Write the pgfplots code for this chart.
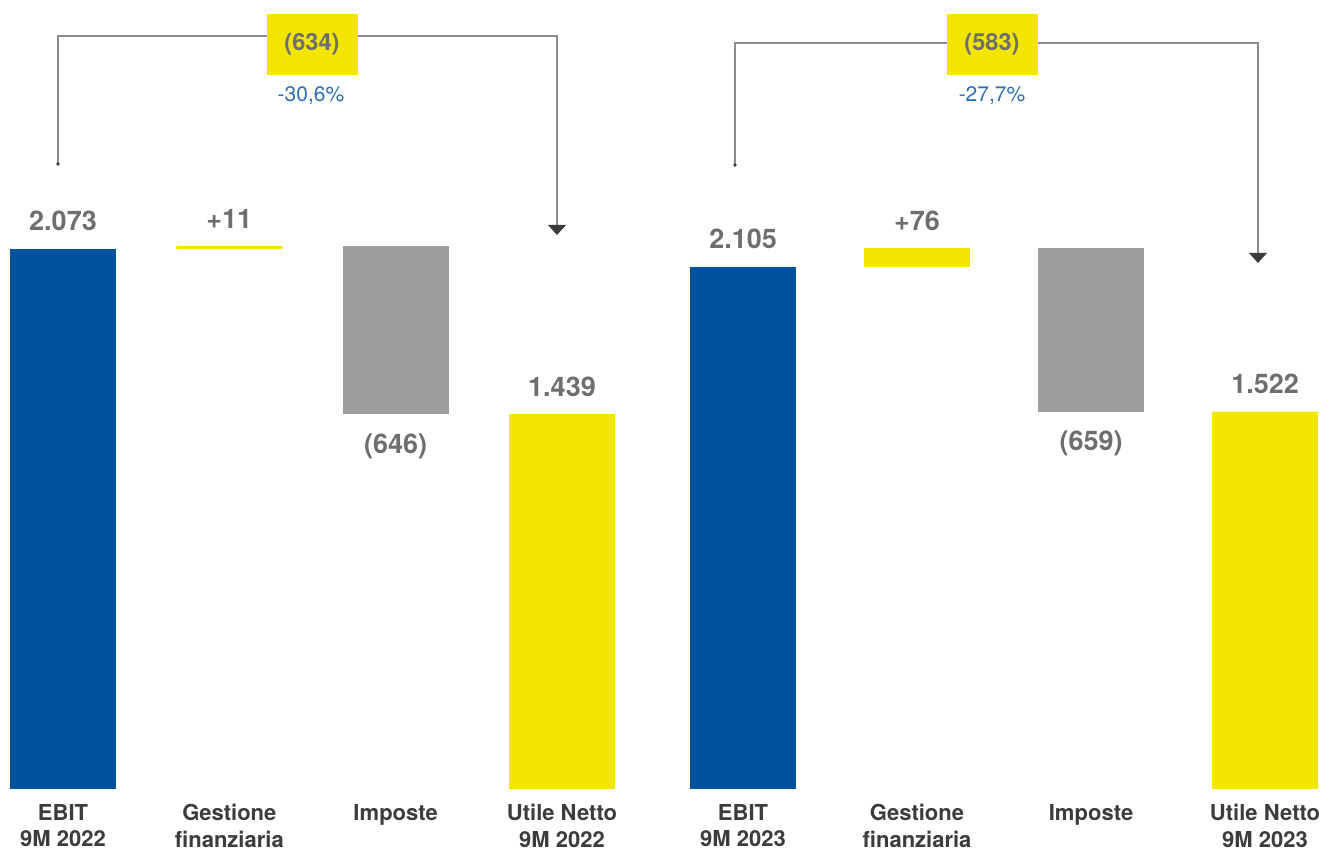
\documentclass[border=0pt]{standalone}
\usepackage{fontspec}
\setmainfont{TeX Gyre Heros}
\usepackage{pgfplots}
\usepackage{pgfplotstable}
\pgfplotsset{compat=1.18}

\definecolor{cblue}{RGB}{0,82,159}
\definecolor{cyellow}{RGB}{242,229,0}
\definecolor{cgrey}{RGB}{157,157,156}
\definecolor{valgrey}{RGB}{110,110,110}
\definecolor{ticktext}{RGB}{60,60,59}
\definecolor{pctblue}{RGB}{46,110,180}
\definecolor{linegrey}{RGB}{140,140,140}

\pgfplotstableread{
x base ebit yel grey
0 0    2073 0    0
1 2073 0    11   0
2 1438 0    0    646
3 0    0    1439 0
}\dataA

\pgfplotstableread{
x base ebit yel grey
0 0    2105 0    0
1 2105 0    76   0
2 1522 0    0    659
3 0    0    1522 0
}\dataB

\newcommand\valfont{\fontsize{13.5}{16}\selectfont\bfseries\color{valgrey}}

\pgfplotsset{
  wf/.style={
    ybar stacked,
    bar width=53pt,
    scale only axis,
    axis line style={draw=none},
    major tick length=0pt,
    ytick=\empty,
    xtick={0,1,2,3},
    ymin=0,
    enlargelimits=false,
    clip=false,
    anchor=south west,
    xticklabel style={align=center, font=\fontsize{11}{13.3}\selectfont\bfseries, text=ticktext, yshift=-4pt},
  }
}

\begin{document}
\begin{tikzpicture}
\useasboundingbox (0,0) rectangle (663pt,423.5pt);

% ---------- Group 1 ----------
\begin{axis}[wf,
  at={(0pt,29pt)},
  x=83.165pt, y=0.13025pt,
  xmin=-0.3788, xmax=3.4,
  ymax=3029,
  xticklabels={{EBIT\\9M 2022},{Gestione\\finanziaria},{Imposte},{Utile Netto\\9M 2022}},
]
\addplot[draw=none, fill=none] table[x=x, y=base] {\dataA};
\addplot[draw=none, fill=cblue] table[x=x, y=ebit] {\dataA};
\addplot[draw=none, fill=cyellow] table[x=x, y=yel] {\dataA};
\addplot[draw=none, fill=cgrey] table[x=x, y=grey] {\dataA};
\node[anchor=base, yshift=9pt] at (axis cs:0,2073) {\valfont 2.073};
\node[anchor=base, yshift=9pt] at (axis cs:1,2084) {\valfont +11};
\node[anchor=base, yshift=-19.5pt] at (axis cs:2,1438) {\valfont (646)};
\node[anchor=base, yshift=9pt] at (axis cs:3,1439) {\valfont 1.439};
\end{axis}

% ---------- Group 2 ----------
\begin{axis}[wf,
  at={(341.5pt,29pt)},
  x=87pt, y=0.124pt,
  xmin=-0.345, xmax=3.35,
  ymax=3181,
  xticklabels={{EBIT\\9M 2023},{Gestione\\finanziaria},{Imposte},{Utile Netto\\9M 2023}},
]
\addplot[draw=none, fill=none] table[x=x, y=base] {\dataB};
\addplot[draw=none, fill=cblue] table[x=x, y=ebit] {\dataB};
\addplot[draw=none, fill=cyellow] table[x=x, y=yel] {\dataB};
\addplot[draw=none, fill=cgrey] table[x=x, y=grey] {\dataB};
\node[anchor=base, yshift=9pt] at (axis cs:0,2105) {\valfont 2.105};
\node[anchor=base, yshift=9pt] at (axis cs:1,2181) {\valfont +76};
\node[anchor=base, yshift=-19.5pt] at (axis cs:2,1522) {\valfont (659)};
\node[anchor=base, yshift=9pt] at (axis cs:3,1522) {\valfont 1.522};
\end{axis}

% ---------- Brackets ----------
\draw[linegrey, line width=1pt] (29pt,341.5pt) -- (29pt,405.5pt) -- (278.5pt,405.5pt) -- (278.5pt,310.5pt);
\fill[ticktext] (274pt,311pt) -- (283pt,311pt) -- (278.5pt,306pt) -- cycle;
\fill[ticktext] (29pt,341.5pt) circle (0.9pt);
\fill[cyellow] (133.5pt,416.5pt) rectangle (179pt,386pt);
\node at (156pt,401.5pt) {\fontsize{11.8}{13}\selectfont\bfseries\color{valgrey}(634)};
\node at (155.5pt,375.5pt) {\fontsize{10.5}{12}\selectfont\color{pctblue}-30,6\%};

\draw[linegrey, line width=1pt] (367.5pt,341pt) -- (367.5pt,402pt) -- (629pt,402pt) -- (629pt,296.5pt);
\fill[ticktext] (624.5pt,297pt) -- (633.5pt,297pt) -- (629pt,292pt) -- cycle;
\fill[ticktext] (367.5pt,341pt) circle (0.9pt);
\fill[cyellow] (473.5pt,416.5pt) rectangle (519pt,386pt);
\node at (496pt,401.5pt) {\fontsize{11.8}{13}\selectfont\bfseries\color{valgrey}(583)};
\node at (496pt,375.5pt) {\fontsize{10.5}{12}\selectfont\color{pctblue}-27,7\%};
\end{tikzpicture}
\end{document}
